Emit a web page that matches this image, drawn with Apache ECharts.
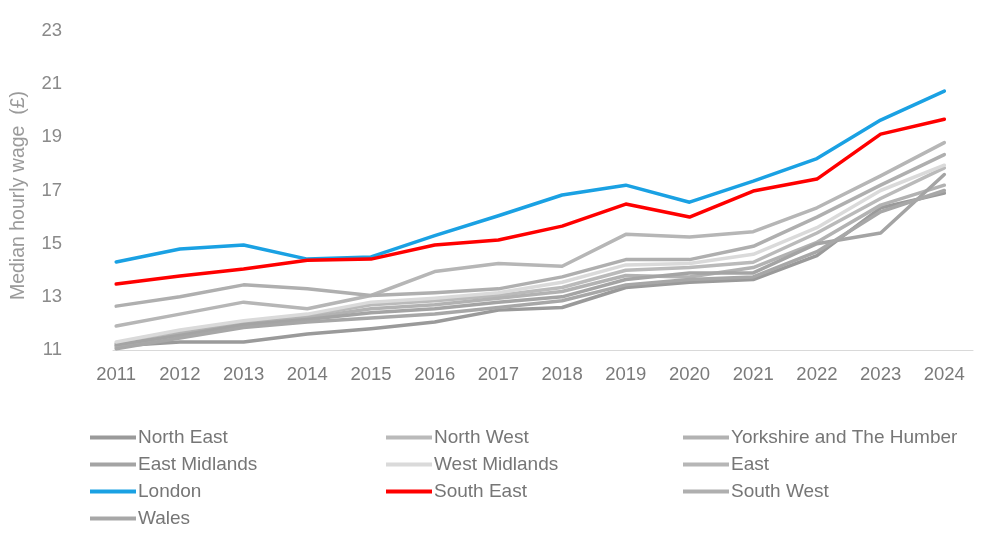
<!DOCTYPE html>
<html>
<head>
<meta charset="utf-8">
<script src="https://cdn.jsdelivr.net/npm/echarts@6/dist/echarts.min.js"></script>
<style>
  html, body { margin: 0; padding: 0; background: #ffffff; }
  #chart { width: 989px; height: 536px; }
</style>
</head>
<body>
<div id="chart"></div>
<script>
// Median hourly wage by region, 2011-2024 (£)
const years = [2011, 2012, 2013, 2014, 2015, 2016, 2017, 2018, 2019, 2020, 2021, 2022, 2023, 2024];
const yTicks = [11, 13, 15, 17, 19, 21, 23];

const northEast      = [11.15, 11.30, 11.30, 11.60, 11.80, 12.05, 12.50, 12.60, 13.35, 13.55, 13.65, 14.55, 16.35, 16.90];
const northWest      = [11.25, 11.70, 12.05, 12.30, 12.70, 12.85, 13.05, 13.35, 14.00, 14.10, 14.30, 15.40, 16.70, 17.85];
const yorkshire      = [11.10, 11.60, 12.00, 12.20, 12.55, 12.70, 12.95, 13.20, 13.80, 13.75, 14.10, 15.05, 16.45, 17.20];
const eastMidlands   = [11.20, 11.55, 11.95, 12.15, 12.40, 12.55, 12.80, 13.00, 13.65, 13.90, 13.90, 15.00, 15.40, 17.60];
const westMidlands   = [11.30, 11.75, 12.10, 12.35, 12.80, 12.95, 13.15, 13.55, 14.20, 14.25, 14.60, 15.60, 17.00, 17.95];
const east           = [11.90, 12.35, 12.80, 12.55, 13.05, 13.95, 14.25, 14.15, 15.35, 15.25, 15.45, 16.35, 17.55, 18.80];
const london         = [14.31, 14.80, 14.95, 14.42, 14.50, 15.30, 16.05, 16.83, 17.20, 16.56, 17.35, 18.20, 19.65, 20.74];
const southEast      = [13.48, 13.78, 14.05, 14.38, 14.42, 14.95, 15.14, 15.66, 16.49, 16.00, 16.98, 17.43, 19.12, 19.68];
const southWest      = [12.65, 13.00, 13.45, 13.30, 13.05, 13.15, 13.30, 13.75, 14.40, 14.40, 14.90, 16.00, 17.20, 18.35];
const wales          = [11.05, 11.45, 11.85, 12.05, 12.20, 12.35, 12.60, 12.85, 13.45, 13.65, 13.75, 14.70, 16.20, 17.00];

const regions = [
  { name: 'North East',               values: northEast,    color: '#9a9a9a' },
  { name: 'North West',               values: northWest,    color: '#bababa' },
  { name: 'Yorkshire and The Humber', values: yorkshire,    color: '#b2b2b2' },
  { name: 'East Midlands',            values: eastMidlands, color: '#a4a4a4' },
  { name: 'West Midlands',            values: westMidlands, color: '#dadada' },
  { name: 'East',                     values: east,         color: '#b6b6b6' },
  { name: 'London',                   values: london,       color: '#1aa1e3' },
  { name: 'South East',               values: southEast,    color: '#ff0000' },
  { name: 'South West',               values: southWest,    color: '#afafaf' },
  { name: 'Wales',                    values: wales,        color: '#a7a7a7' }
];

const font = '"Liberation Sans", Arial, sans-serif';

const series = regions.map(r => ({
  name: r.name,
  type: 'line',
  data: years.map((y, i) => [y, r.values[i]]),
  showSymbol: false,
  symbol: 'none',
  lineStyle: { width: 3.5, color: r.color, cap: 'round', join: 'round' },
  itemStyle: { color: r.color },
  emphasis: { disabled: true },
  z: 2
}));

function legendColumn(names, left) {
  return {
    orient: 'vertical',
    left: left,
    top: 428,
    itemWidth: 46,
    itemHeight: 4,
    itemGap: 8,
    icon: 'rect',
    padding: 0,
    data: names,
    selectedMode: false,
    textStyle: { fontFamily: font, fontSize: 19, color: '#767676', padding: [0, 0, 0, -3], lineHeight: 19 }
  };
}

const chart = echarts.init(document.getElementById('chart'), null, { renderer: 'canvas' });
chart.setOption({
  animation: false,
  backgroundColor: '#ffffff',
  grid: { left: 113, right: 16, top: 31, bottom: 186, containLabel: false },
  xAxis: {
    type: 'value',
    min: 2010.95,
    max: 2024.45,
    axisLine: { show: true, lineStyle: { color: '#d9d9d9', width: 1 } },
    axisTick: { show: false },
    splitLine: { show: false },
    axisLabel: {
      customValues: years,
      formatter: v => String(v),
      fontFamily: font,
      fontSize: 18.5,
      color: '#7a7a7a',
      margin: 15
    }
  },
  yAxis: {
    type: 'value',
    min: 11,
    max: 23,
    interval: 2,
    axisLine: { show: false },
    axisTick: { show: false },
    splitLine: { show: false },
    axisLabel: {
      customValues: yTicks,
      fontFamily: font,
      fontSize: 18.5,
      color: '#8a8a8a',
      margin: 51
    },
    name: 'Median hourly wage  (£)',
    nameLocation: 'middle',
    nameGap: 84,
    nameTextStyle: { fontFamily: font, fontSize: 19.5, color: '#9a9a9a', padding: [0, 10, 0, 0] }
  },
  legend: [
    legendColumn(['North East', 'East Midlands', 'London', 'Wales'], 90),
    legendColumn(['North West', 'West Midlands', 'South East'], 386),
    legendColumn(['Yorkshire and The Humber', 'East', 'South West'], 683)
  ],
  series: series
});
</script>
</body>
</html>
